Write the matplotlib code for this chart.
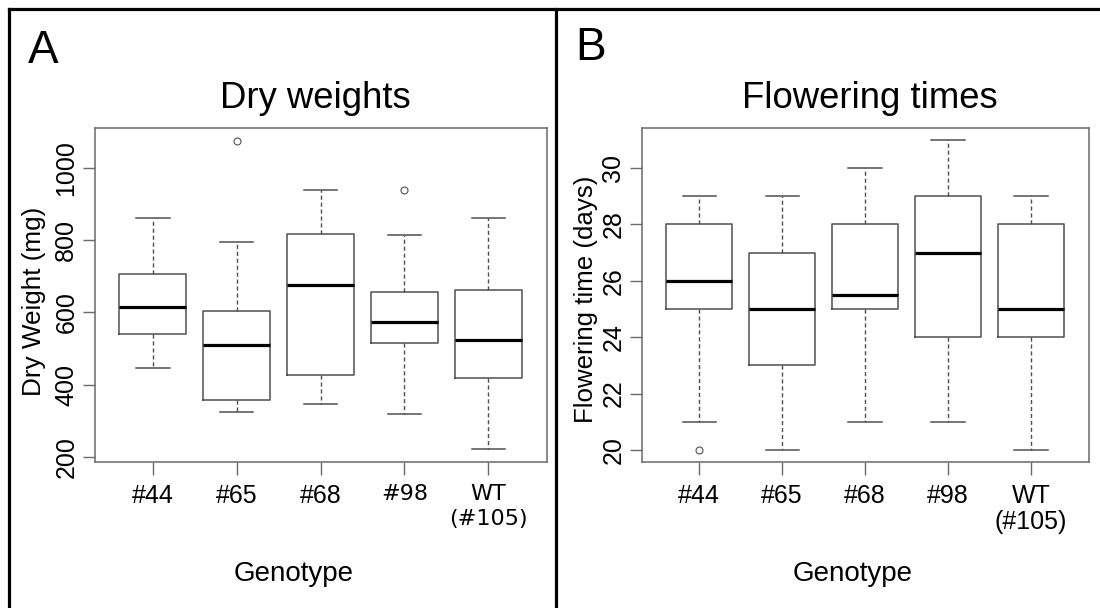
import matplotlib
matplotlib.use("Agg")
import matplotlib.pyplot as plt
from matplotlib.lines import Line2D
from matplotlib import font_manager

# Genotypes on the x axis
genotypes = ["#44", "#65", "#68", "#98", "WT\n(#105)"]

# Dry weight (mg): five-number summaries per genotype
dw_whislo = [445, 323, 347, 319, 222]
dw_q1 = [539, 357, 426, 516, 418]
dw_med = [615, 509, 677, 574, 524]
dw_q3 = [705, 604, 818, 655, 663]
dw_whishi = [861, 794, 939, 814, 861]
dw_fliers = [[], [1074], [], [939], []]

# Flowering time (days): five-number summaries per genotype
ft_whislo = [21, 20, 21, 21, 20]
ft_q1 = [25, 23, 25, 24, 24]
ft_med = [26, 25, 25.5, 27, 25]
ft_q3 = [28, 27, 28, 29, 28]
ft_whishi = [29, 29, 30, 31, 29]
ft_fliers = [[20], [], [], [], []]

W, H = 1100, 608
fig = plt.figure(figsize=(W / 100, H / 100), dpi=100)
fig.patch.set_facecolor("white")

SANS = "Liberation Sans"
installed = {f.name for f in font_manager.fontManager.ttflist}
NARROW = "Liberation Sans Narrow" if "Liberation Sans Narrow" in installed else SANS
EDGE = "#505050"
SPINE = "#6a6a6a"


def px(x, y):
    return x / W, 1 - y / H


def make_stats(lo, q1, med, q3, hi, fl):
    return [dict(whislo=a, q1=b, med=c, q3=d, whishi=e, fliers=f)
            for a, b, c, d, e, f in zip(lo, q1, med, q3, hi, fl)]


def draw_panel(rect, stats, ylim, yticks, alt_font_idx, ytick_family,
               ytick_size):
    ax = fig.add_axes(rect)
    ax.bxp(stats, positions=range(1, 6), widths=0.8, showfliers=True,
           boxprops=dict(color=EDGE, linewidth=1.1),
           medianprops=dict(color="black", linewidth=2.3, solid_capstyle="butt"),
           whiskerprops=dict(color=EDGE, linewidth=1.0, linestyle=(0, (3, 2))),
           capprops=dict(color=EDGE, linewidth=1.1),
           capwidths=0.4,
           flierprops=dict(marker="o", markersize=5, markerfacecolor="none",
                           markeredgecolor=EDGE, markeredgewidth=0.8))
    ax.set_xlim(0.31, 5.7)
    ax.set_ylim(*ylim)
    ax.set_yticks(yticks)
    ax.set_xticks(range(1, 6))
    ax.set_xticklabels(genotypes)
    for s in ax.spines.values():
        s.set_color(SPINE)
        s.set_linewidth(1.1)
    ax.tick_params(axis="both", direction="out", length=9, width=1.0,
                   color=SPINE, labelsize=18)
    ax.tick_params(axis="x", pad=7)
    ax.tick_params(axis="y", pad=3, labelrotation=90)
    for lbl in ax.get_yticklabels():
        lbl.set_fontfamily(ytick_family)
        lbl.set_fontsize(ytick_size)
        lbl.set_va("center")
    for i, lbl in enumerate(ax.get_xticklabels()):
        if i in alt_font_idx:
            lbl.set_fontfamily("DejaVu Sans")
            lbl.set_fontsize(16)
            lbl.set_linespacing(1.3)
        else:
            lbl.set_fontfamily(SANS)
            lbl.set_linespacing(1.1)
    return ax


# Panel A: dry weights
axA = draw_panel([95 / W, 1 - 462 / H, (547 - 95) / W, (462 - 128) / H],
                 make_stats(dw_whislo, dw_q1, dw_med, dw_q3, dw_whishi, dw_fliers),
                 (186, 1110), [200, 400, 600, 800, 1000], alt_font_idx={3, 4},
                 ytick_family=NARROW, ytick_size=18)

# Panel B: flowering times
axB = draw_panel([642 / W, 1 - 462 / H, (1089 - 642) / W, (462 - 128) / H],
                 make_stats(ft_whislo, ft_q1, ft_med, ft_q3, ft_whishi, ft_fliers),
                 (19.57, 31.42), [20, 22, 24, 26, 28, 30], alt_font_idx=set(),
                 ytick_family=SANS, ytick_size=18)

# Panel letters, titles and axis labels
fig.text(*px(28, 63), "A", fontsize=33, family=SANS, ha="left", va="baseline")
fig.text(*px(575, 60), "B", fontsize=33, family=SANS, ha="left", va="baseline")
fig.text(*px(315, 108), "Dry weights", fontsize=26.3, family=SANS,
         ha="center", va="baseline")
fig.text(*px(870, 108), "Flowering times", fontsize=26.3, family=SANS,
         ha="center", va="baseline")
fig.text(*px(294, 581), "Genotype", fontsize=20, family=SANS,
         ha="center", va="baseline")
fig.text(*px(853, 581), "Genotype", fontsize=20, family=SANS,
         ha="center", va="baseline")
fig.text(*px(34, 301), "Dry Weight (mg)", fontsize=18.8, family=SANS,
         ha="center", va="center", rotation=90)
fig.text(*px(586, 299), "Flowering time (days)", fontsize=18.6, family=SANS,
         ha="center", va="center", rotation=90)

# Outer frame and panel divider
frame_kw = dict(color="black", linewidth=2.3, solid_capstyle="projecting")
fig.add_artist(Line2D([9 / W, 1.0], [1 - 9 / H, 1 - 9 / H], **frame_kw))
fig.add_artist(Line2D([9 / W, 9 / W], [0.0, 1 - 9 / H], **frame_kw))
fig.add_artist(Line2D([556 / W, 556 / W], [0.0, 1 - 9 / H], **frame_kw))

fig.savefig("out.png", dpi=100, facecolor="white")
